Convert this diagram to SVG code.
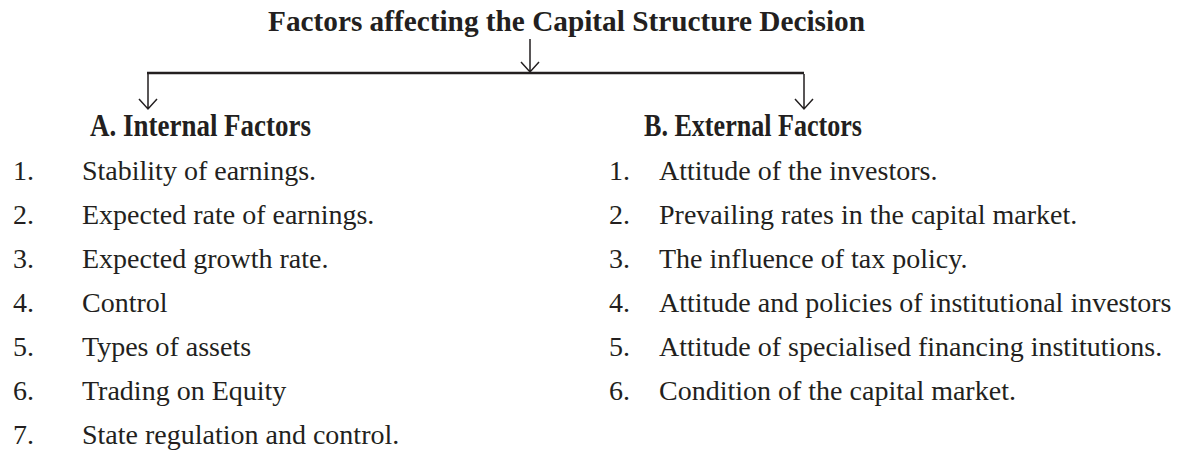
<svg xmlns="http://www.w3.org/2000/svg" width="1180" height="452" viewBox="0 0 1180 452">
<style>
.t{font-family:"Liberation Serif","Times New Roman",serif;fill:#231f20}
.h{font-weight:bold;font-size:29px}
.s{font-weight:bold;font-size:32px}
.i{font-size:28px}
.c{stroke:#231f20;fill:none;stroke-width:1.5}
.bar{stroke:#231f20;stroke-width:2.4}
</style>
<rect width="1180" height="452" fill="#fff"/>
<g id="title"><text class="t h" x="268" y="31" textLength="597" lengthAdjust="spacingAndGlyphs">Factors affecting the Capital Structure Decision</text></g>
<g id="connectors">
<line class="bar" x1="147" y1="73" x2="804" y2="73"/>
<path class="c" d="M530 39V72M521 62L530 72L539 62"/>
<path class="c" d="M148 74V109M139 99L148 109L157 99"/>
<path class="c" d="M804 74V109M795 99L804 109L813 99"/>
</g>
<g id="internal">
<text class="t s" x="90" y="136" textLength="221" lengthAdjust="spacingAndGlyphs">A. Internal Factors</text>
<text class="t i" x="13" y="180">1.</text><text class="t i" x="82" y="180">Stability of earnings.</text>
<text class="t i" x="13" y="224">2.</text><text class="t i" x="82" y="224">Expected rate of earnings.</text>
<text class="t i" x="13" y="268">3.</text><text class="t i" x="82" y="268">Expected growth rate.</text>
<text class="t i" x="13" y="312">4.</text><text class="t i" x="82" y="312">Control</text>
<text class="t i" x="13" y="356">5.</text><text class="t i" x="82" y="356">Types of assets</text>
<text class="t i" x="13" y="400">6.</text><text class="t i" x="82" y="400">Trading on Equity</text>
<text class="t i" x="13" y="444">7.</text><text class="t i" x="82" y="444">State regulation and control.</text>
</g>
<g id="external">
<text class="t s" x="644" y="136" textLength="218" lengthAdjust="spacingAndGlyphs">B. External Factors</text>
<text class="t i" x="609" y="180">1.</text><text class="t i" x="659" y="180">Attitude of the investors.</text>
<text class="t i" x="609" y="224">2.</text><text class="t i" x="659" y="224">Prevailing rates in the capital market.</text>
<text class="t i" x="609" y="268">3.</text><text class="t i" x="659" y="268">The influence of tax policy.</text>
<text class="t i" x="609" y="312">4.</text><text class="t i" x="659" y="312">Attitude and policies of institutional investors</text>
<text class="t i" x="609" y="356">5.</text><text class="t i" x="659" y="356">Attitude of specialised financing institutions.</text>
<text class="t i" x="609" y="400">6.</text><text class="t i" x="659" y="400">Condition of the capital market.</text>
</g>
</svg>
